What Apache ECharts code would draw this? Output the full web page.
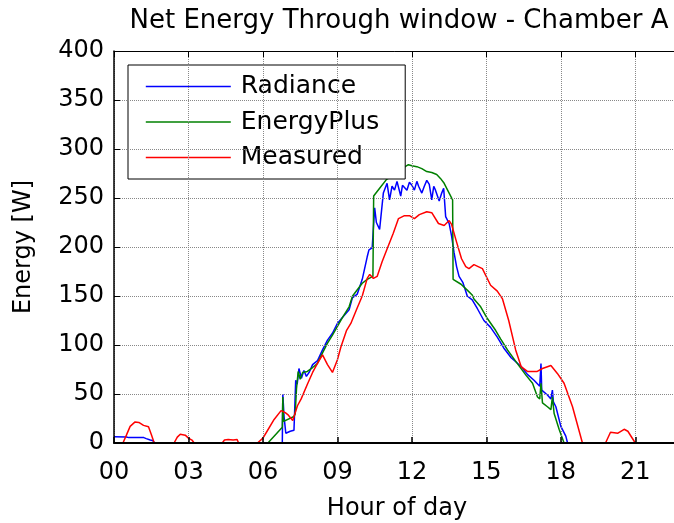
<!DOCTYPE html>
<html>
<head>
<meta charset="utf-8">
<script src="https://cdn.jsdelivr.net/npm/echarts@6/dist/echarts.min.js"></script>
<style>
  html, body { margin: 0; padding: 0; background: #fff; }
  #chart { width: 674px; height: 523px; }
</style>
</head>
<body>
<div id="chart"></div>
<script>
// x ticks every 3 hours, y ticks every 50 W
const hourTicks = [0, 3, 6, 9, 12, 15, 18, 21];
const energyTicks = [0, 50, 100, 150, 200, 250, 300, 350, 400];

// Radiance (blue)
const radianceHour = [0, 0.5, 0.6, 1.2, 1.3, 1.46, 1.55, 1.65, 2.05, 2.13, 2.2, 6.78, 6.8, 6.85, 6.92, 7.1, 7.25, 7.32, 7.38, 7.45, 7.55, 7.65, 7.75, 7.86, 8.0, 8.2, 8.4, 8.6, 8.8, 9.0, 9.2, 9.47, 9.6, 9.8, 10.0, 10.2, 10.27, 10.4, 10.5, 10.57, 10.7, 10.85, 11.0, 11.1, 11.2, 11.3, 11.4, 11.55, 11.62, 11.7, 11.8, 11.9, 12.0, 12.1, 12.2, 12.27, 12.4, 12.5, 12.6, 12.7, 12.8, 12.88, 12.95, 13.1, 13.2, 13.28, 13.36, 13.5, 13.6, 13.7, 13.8, 13.9, 14.05, 14.23, 14.43, 14.64, 14.9, 15.17, 15.44, 15.7, 16.0, 16.4, 16.65, 16.92, 17.15, 17.2, 17.23, 17.46, 17.6, 17.66, 17.7, 17.8, 18.0, 18.2, 18.27, 24];
const radianceW = [6.5, 6.2, 5.5, 5.5, 4.5, 3, 2.5, 0, 0, 2, 0, 0, 50, 27, 10, 12, 13, 64, 60, 76, 66, 74, 68, 72, 80, 84, 95, 105, 112, 122, 128, 136, 148, 152, 167, 190, 197, 199, 240, 225, 218, 255, 265, 248, 262, 258, 267, 252, 263, 264, 258, 266, 263, 258, 267, 262, 255, 262, 268, 264, 248, 262, 258, 247, 255, 260, 231, 224, 211, 194, 180, 170, 164, 150, 146, 137, 125, 118, 108, 97, 87, 78, 70, 64, 58, 81, 54, 49, 45, 54, 42, 37, 17, 7, 0, 0];

// EnergyPlus (green)
const energyPlusHour = [0, 6.2, 6.78, 6.8, 6.83, 6.9, 7.25, 7.3, 7.35, 7.42, 7.5, 7.6, 7.79, 8.0, 8.19, 8.4, 8.6, 8.8, 9.0, 9.2, 9.47, 9.61, 10.0, 10.2, 10.43, 10.46, 10.7, 10.98, 11.2, 11.39, 11.6, 11.86, 12.0, 12.2, 12.4, 12.6, 12.8, 13.0, 13.15, 13.3, 13.5, 13.64, 13.66, 13.98, 14.23, 14.43, 14.5, 14.77, 15.04, 15.37, 15.58, 15.85, 16.25, 16.6, 16.86, 17.06, 17.15, 17.2, 17.26, 17.46, 17.6, 17.66, 17.73, 17.93, 18.13, 24];
const energyPlusW = [0, 0, 16, 47, 22, 20, 27, 30, 55, 73, 65, 72, 73, 77, 81, 92, 102, 110, 119, 128, 139, 150, 163, 167, 170, 252, 260, 269, 272, 275, 280, 284, 283, 282, 280, 277, 276, 274, 270, 265, 255, 248, 167, 162, 156, 151, 147, 139, 127, 115, 106, 95, 81, 69, 61, 47, 45, 61, 41, 37, 34, 47, 30, 14, 0, 0];

// Measured (red)
const measuredHour = [0, 0.36, 0.5, 0.65, 0.85, 1.0, 1.19, 1.39, 1.5, 1.62, 2.42, 2.55, 2.67, 2.87, 3.0, 3.14, 3.23, 4.36, 4.45, 4.6, 4.8, 4.96, 5.02, 5.78, 6.0, 6.19, 6.45, 6.73, 6.9, 7.0, 7.2, 7.39, 7.54, 7.79, 8.0, 8.19, 8.4, 8.6, 8.8, 9.0, 9.14, 9.37, 9.54, 9.8, 10.0, 10.2, 10.3, 10.45, 10.6, 10.8, 11.0, 11.25, 11.46, 11.7, 11.9, 12.1, 12.3, 12.6, 12.8, 13.07, 13.3, 13.5, 13.6, 13.8, 14.0, 14.17, 14.3, 14.5, 14.84, 15.17, 15.44, 15.65, 15.9, 16.18, 16.4, 16.65, 17.05, 17.26, 17.6, 17.86, 18.13, 18.47, 18.87, 19.8, 20.0, 20.3, 20.55, 20.7, 21.0, 24];
const measuredW = [0, 0, 8, 17, 21.5, 21, 18, 16.5, 9, 0, 0, 6, 9, 8, 5, 3, 0, 0, 3, 3.5, 3, 3.5, 0, 0, 5, 13, 24, 33, 31, 29, 23, 38, 45, 60, 72, 81, 90, 80, 72, 85, 98, 115, 122, 138, 150, 168, 172, 168, 170, 185, 198, 214, 229, 232, 232, 229, 233, 236, 235, 224, 222, 227, 223, 205, 188, 180, 178, 182, 178, 161, 155, 147, 125, 95, 78, 73, 73, 76, 79, 71, 61, 37, 0, 0, 11, 10, 14, 12, 0, 0];

const seriesNames = ["Radiance", "EnergyPlus", "Measured"];
const seriesColors = ["#0000ff", "#008000", "#ff0000"];

function pairs(hours, values) {
  return hours.map((h, i) => [h, values[i]]);
}

const font = "DejaVu Sans";
const pad2 = (v) => (v < 10 ? "0" + v : "" + v);

var chart = echarts.init(document.getElementById("chart"));
const option = {
  animation: false,
  title: {
    text: "Net Energy Through window - Chamber A",
    left: 394,
    textAlign: "center",
    top: 3,
    textStyle: { fontFamily: font, fontSize: 26, fontWeight: "normal", color: "#000" },
  },
  grid: {
    left: 114,
    right: -6,
    top: 51,
    bottom: 80,
    outerBoundsMode: "none",
  },
  legend: {
    orient: "vertical",
    left: 128,
    top: 65,
    padding: [9, 26, 9, 17],
    itemGap: 10.5,
    itemWidth: 85,
    itemHeight: 25,
    borderColor: "#000",
    borderWidth: 1,
    backgroundColor: "#fff",
    data: seriesNames,
    itemStyle: { opacity: 0 },
    lineStyle: { width: 1.6 },
    textStyle: { fontFamily: font, fontSize: 25, color: "#000", padding: [0, 0, 0, 5] },
  },
  xAxis: [
    {
      type: "value",
      position: "bottom",
      min: 0,
      max: 22.8,
      interval: 3,
      z: 5,
      name: "Hour of day",
      nameLocation: "middle",
      nameGap: 54,
      nameTextStyle: { fontFamily: font, fontSize: 24, color: "#000" },
      axisLine: { lineStyle: { color: "#000", width: 2 } },
      axisTick: { inside: true, length: 6, lineStyle: { color: "#000", width: 1.5 } },
      axisLabel: {
        margin: 18,
        fontFamily: font,
        fontSize: 24,
        color: "#000",
        formatter: (v) => (hourTicks.indexOf(v) >= 0 ? pad2(v) : ""),
      },
      splitLine: { show: true, lineStyle: { type: "dotted", color: "#888", width: 1 } },
    },
    {
      type: "value",
      position: "top",
      min: 0,
      max: 22.8,
      interval: 3,
      z: 5,
      axisLine: { lineStyle: { color: "#000", width: 1 } },
      axisTick: { inside: true, length: 6, lineStyle: { color: "#000" } },
      axisLabel: { show: false },
      splitLine: { show: false },
    },
  ],
  yAxis: {
    type: "value",
    min: 0,
    max: 400,
    interval: 50,
    z: 5,
    name: "Energy [W]",
    nameLocation: "middle",
    nameGap: 78,
    nameRotate: 90,
    nameTextStyle: { fontFamily: font, fontSize: 24, color: "#000" },
    axisLine: { show: true, lineStyle: { color: "#000", width: 1.5 } },
    axisTick: { show: true, inside: true, length: 6, lineStyle: { color: "#000" } },
    axisLabel: {
      margin: 10,
      fontFamily: font,
      fontSize: 24,
      color: "#000",
      formatter: (v) => (energyTicks.indexOf(v) >= 0 ? "" + v : ""),
    },
    splitLine: { show: true, lineStyle: { type: "dotted", color: "#888", width: 1 } },
  },
  series: [
    { name: seriesNames[0], data: pairs(radianceHour, radianceW) },
    { name: seriesNames[1], data: pairs(energyPlusHour, energyPlusW) },
    { name: seriesNames[2], data: pairs(measuredHour, measuredW) },
  ].map((s, i) => ({
    ...s,
    type: "line",
    symbol: "none",
    color: seriesColors[i],
    lineStyle: { color: seriesColors[i], width: 1.5 },
  })),
};
chart.setOption(option);
</script>
</body>
</html>
